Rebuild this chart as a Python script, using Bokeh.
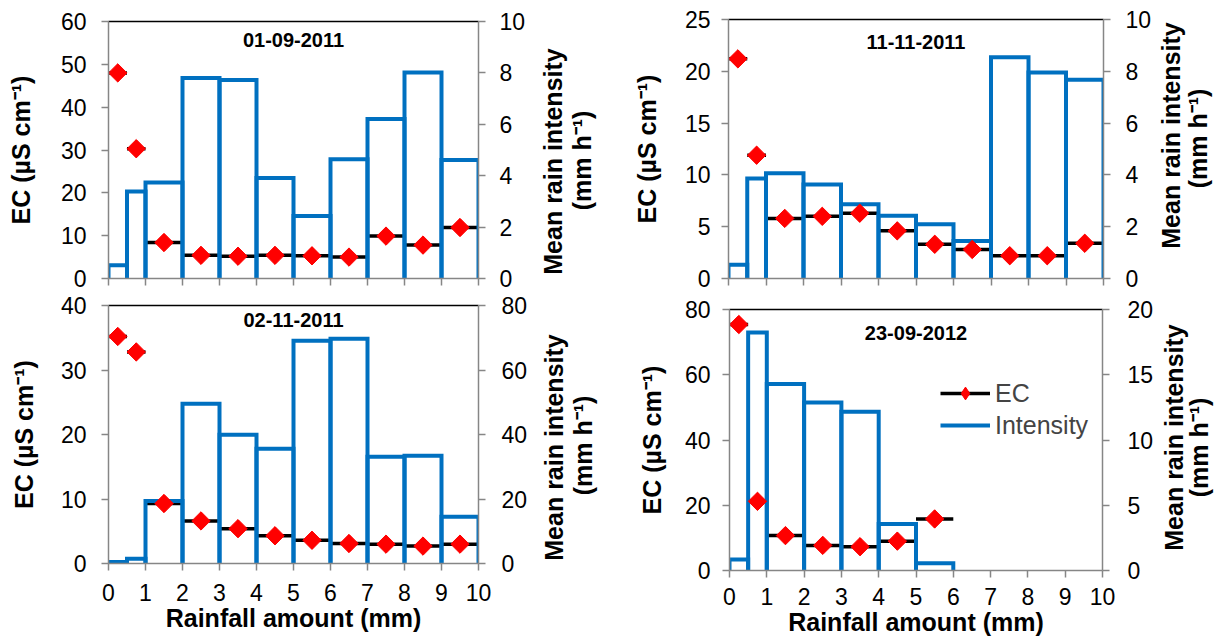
import math
from bokeh.plotting import figure
from bokeh.models import Range1d, LinearAxis, FixedTicker, Label, Legend, LegendItem
from bokeh.layouts import row, column
from bokeh.embed import file_html
from bokeh.resources import INLINE

# ---- data ----
bin_left = [0, 0.5, 1, 2, 3, 4, 5, 6, 7, 8, 9]
bin_right = [0.5, 1, 2, 3, 4, 5, 6, 7, 8, 9, 10]
bin_center = [0.25, 0.75, 1.5, 2.5, 3.5, 4.5, 5.5, 6.5, 7.5, 8.5, 9.5]
x_ticks = [0, 1, 2, 3, 4, 5, 6, 7, 8, 9, 10]

dates = ["01-09-2011", "11-11-2011", "02-11-2011", "23-09-2012"]

ec_a = [48.0, 30.3, 8.4, 5.4, 5.2, 5.4, 5.3, 5.0, 9.9, 7.8, 11.9]
int_a = [0.52, 3.39, 3.74, 7.80, 7.72, 3.91, 2.43, 4.64, 6.21, 8.02, 4.61]

ec_b = [21.2, 11.9, 5.8, 6.0, 6.3, 4.6, 3.3, 2.8, 2.2, 2.2, 3.4]
int_b = [0.53, 3.86, 4.06, 3.63, 2.87, 2.42, 2.09, 1.45, 8.54, 7.95, 7.67]

ec_c = [35.2, 32.8, 9.3, 6.6, 5.4, 4.3, 3.6, 3.1, 3.0, 2.7, 3.0]
int_c = [0.5, 1.5, 19.4, 49.5, 39.9, 35.6, 69.1, 69.7, 33.1, 33.4, 14.5]

ec_d = [75.4, 21.2, 10.7, 7.7, 7.3, 9.0, 15.8]
int_d = [0.84, 18.24, 14.29, 12.88, 12.17, 3.57, 0.56]

ec_max = [60, 25, 40, 80]
ec_ticks = [[0, 10, 20, 30, 40, 50, 60], [0, 5, 10, 15, 20, 25],
            [0, 10, 20, 30, 40], [0, 20, 40, 60, 80]]
int_max = [10, 10, 80, 20]
int_ticks = [[0, 2, 4, 6, 8, 10], [0, 2, 4, 6, 8, 10],
             [0, 20, 40, 60, 80], [0, 5, 10, 15, 20]]

ec_label = "EC (µS cm⁻¹)"
int_label_1 = "Mean rain intensity"
int_label_2 = "(mm h⁻¹)"
x_label = "Rainfall amount (mm)"

FONT = "Liberation Sans"
GRAY = "#868686"
BLUE = "#0070C0"

# per-panel style offsets (pixels)
tick_standoff = [15, 11, 15, 12]
label_standoff = [23, 21, 20, 16]
right_standoff = [14, 15, 16, 18]
x_standoff = [13, 13, 13, 10]
title_off = [18, 22, 14, 23]
# right-title positions inside the narrow title strips (px from left / bottom)
rt_x1 = [22, 15, 23, 17]
rt_x2 = [51, 42, 52, 42]
rt_y1 = [131, 157, 195, 205]
rt_y2 = [132, 154, 197, 195]


def style_axis(ax):
    ax.axis_line_color = GRAY
    ax.axis_line_width = 1.5
    ax.major_tick_line_color = GRAY
    ax.major_tick_line_width = 1.5
    ax.major_tick_out = 7
    ax.major_tick_in = 0
    ax.minor_tick_line_color = None
    ax.major_label_text_font = FONT
    ax.major_label_text_font_size = "23px"
    ax.major_label_text_color = "black"
    ax.axis_label_text_font = FONT
    ax.axis_label_text_font_size = "25px"
    ax.axis_label_text_font_style = "bold"
    ax.axis_label_text_color = "black"


def make_panel(k, ec, inten, w, h, borders, show_x, legend=False):
    n = len(ec)
    left, right, top, bottom = borders
    p = figure(width=w, height=h, output_backend="svg", toolbar_location=None,
               title=None, frame_align=False,
               x_range=Range1d(0, 10), y_range=Range1d(0, ec_max[k]),
               min_border_left=left, min_border_right=right,
               min_border_top=top, min_border_bottom=bottom)
    p.extra_y_ranges = {"int": Range1d(0, int_max[k])}
    p.xgrid.visible = False
    p.ygrid.visible = False
    p.outline_line_color = None
    p.background_fill_color = "white"
    p.border_fill_color = "white"

    xa = p.xaxis[0]
    style_axis(xa)
    xa.ticker = FixedTicker(ticks=x_ticks)
    if show_x:
        xa.axis_label = x_label
        xa.major_label_standoff = x_standoff[k]
        xa.axis_label_standoff = 0
    else:
        xa.major_label_overrides = {t: "" for t in x_ticks}
        xa.major_label_standoff = 0

    ya = p.yaxis[0]
    style_axis(ya)
    ya.ticker = FixedTicker(ticks=ec_ticks[k])
    ya.axis_label = ec_label
    ya.major_label_standoff = tick_standoff[k]
    ya.axis_label_standoff = label_standoff[k]

    ra = LinearAxis(y_range_name="int", ticker=FixedTicker(ticks=int_ticks[k]))
    style_axis(ra)
    ra.major_label_standoff = right_standoff[k]
    p.add_layout(ra, "right")

    ta = LinearAxis(ticker=FixedTicker(ticks=[]), axis_line_color="black",
                    axis_line_width=1.5, major_tick_line_color=None,
                    minor_tick_line_color=None, major_label_standoff=0)
    p.add_layout(ta, "above")

    seg = p.segment(x0=bin_left[:n], x1=bin_right[:n], y0=ec, y1=ec,
                    line_color="black", line_width=3.5)
    xs = [[bin_left[i], bin_left[i], bin_right[i], bin_right[i]] for i in range(n)]
    ys = [[0, inten[i], inten[i], 0] for i in range(n)]
    bars = p.multi_line(xs=xs, ys=ys, y_range_name="int", line_color=BLUE,
                        line_width=4, line_join="miter")
    dia_l = p.scatter(x=bin_center[:n], y=ec, marker="diamond", size=17,
                      fill_color="red", line_color="red")
    p.scatter(x=bin_center[:n], y=ec, marker="square", angle=math.pi / 4,
              size=13, fill_color="red", line_color="red")

    p.add_layout(Label(x=5, y=ec_max[k], y_offset=-title_off[k], text=dates[k],
                       text_align="center", text_baseline="middle",
                       text_font=FONT, text_font_size="20px",
                       text_font_style="bold", text_color="black"))

    if legend:
        lg = Legend(items=[LegendItem(label="EC", renderers=[seg, dia_l]),
                           LegendItem(label="Intensity", renderers=[bars])],
                    location=(211, 129), orientation="vertical",
                    background_fill_alpha=0, border_line_color=None,
                    label_text_font=FONT, label_text_font_size="25px",
                    glyph_width=50, glyph_height=32, label_height=28,
                    label_standoff=5, spacing=-2, padding=0, margin=0)
        p.add_layout(lg, "center")
    return p


def make_title_strip(k, w, h):
    g = figure(width=w, height=h, output_backend="svg", toolbar_location=None,
               title=None, frame_align=False,
               x_range=Range1d(0, w), y_range=Range1d(0, h),
               x_axis_location=None, y_axis_location=None,
               min_border_left=0, min_border_right=0,
               min_border_top=0, min_border_bottom=0)
    g.grid.visible = False
    g.outline_line_color = None
    g.background_fill_color = "white"
    g.border_fill_color = "white"
    for txt, x, y in ((int_label_1, rt_x1[k], rt_y1[k]),
                      (int_label_2, rt_x2[k], rt_y2[k])):
        g.add_layout(Label(x=x, y=y, text=txt, angle=math.pi / 2,
                           text_align="center", text_baseline="middle",
                           text_font=FONT, text_font_size="25px",
                           text_font_style="bold", text_color="black"))
    return g


TOP_H = 292
BOT_H = 350
f1 = make_panel(0, ec_a, int_a, 530, TOP_H, (108, 52, 21, 14), False)
g1 = make_title_strip(0, 70, TOP_H)
f2 = make_panel(1, ec_b, int_b, 555, TOP_H, (128, 52, 19, 14), False)
g2 = make_title_strip(1, 59, TOP_H)
f3 = make_panel(2, ec_c, int_c, 530, BOT_H, (108, 50, 13, 79), True)
g3 = make_title_strip(2, 70, BOT_H)
f4 = make_panel(3, ec_d, int_d, 556, BOT_H, (129, 51, 17, 72), True, legend=True)
g4 = make_title_strip(3, 58, BOT_H)

layout = column(row(f1, g1, f2, g2, spacing=0),
                row(f3, g3, f4, g4, spacing=0), spacing=0)

open("out.html", "w").write(file_html(layout, INLINE))
